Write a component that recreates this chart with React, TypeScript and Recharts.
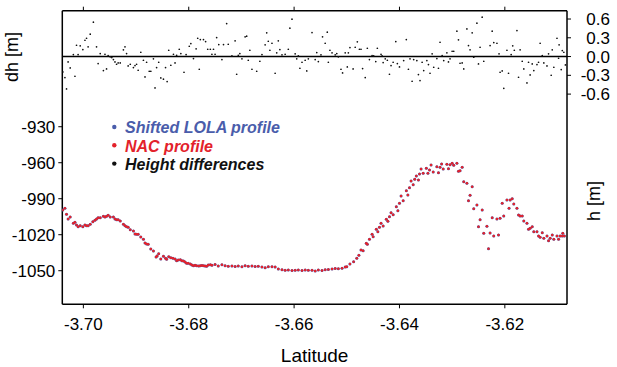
import { ScatterChart, Scatter, XAxis, YAxis, ReferenceLine, Legend } from "recharts";

const FONT = "'Liberation Sans', Arial, Helvetica, sans-serif";

const latTicks = [-3.7, -3.68, -3.66, -3.64, -3.62];
const hTicks = [-1050, -1020, -990, -960, -930];
const dhTicks = [-0.6, -0.3, 0, 0.3, 0.6];

const legendItems = [
	{ name: "Shifted LOLA profile", color: "#4a5dab" },
	{ name: "NAC profile", color: "#e3222b" },
	{ name: "Height differences", color: "#111111" },
];

// profile (latitude, height in m)
const profileLat = [
	-3.7039, -3.7035, -3.7032, -3.7029, -3.7025, -3.7019, -3.7016, -3.7013, -3.701, -3.7006,
	-3.7001, -3.6997, -3.6994, -3.6991, -3.6987, -3.6982, -3.6978, -3.6975, -3.6972, -3.6968,
	-3.6962, -3.6959, -3.6956, -3.6953, -3.6949, -3.6943, -3.694, -3.6937, -3.6934, -3.693,
	-3.6924, -3.6921, -3.6918, -3.6915, -3.6911, -3.6905, -3.6902, -3.6899, -3.6896, -3.6891,
	-3.6886, -3.6883, -3.688, -3.6877, -3.6872, -3.6867, -3.6862, -3.686, -3.6857, -3.6853,
	-3.6848, -3.6844, -3.6842, -3.6838, -3.6834, -3.683, -3.6826, -3.6823, -3.682, -3.6816,
	-3.6813, -3.681, -3.6807, -3.6804, -3.6801, -3.6797, -3.6794, -3.6791, -3.6788, -3.6785,
	-3.6781, -3.6778, -3.6775, -3.6772, -3.6769, -3.6766, -3.6763, -3.6759, -3.6756, -3.675,
	-3.6744, -3.6737, -3.6731, -3.6725, -3.6718, -3.6712, -3.6706, -3.6699, -3.6693, -3.6687,
	-3.668, -3.6674, -3.6668, -3.6661, -3.6655, -3.6649, -3.6642, -3.6636, -3.663, -3.6623,
	-3.6617, -3.6611, -3.6604, -3.6598, -3.6592, -3.6585, -3.6579, -3.6573, -3.6566, -3.656,
	-3.6554, -3.6547, -3.6541, -3.6535, -3.6528, -3.6522, -3.6516, -3.6509, -3.6503, -3.65,
	-3.6494, -3.6487, -3.6481, -3.6477, -3.6473, -3.6469, -3.6463, -3.6461, -3.6457, -3.6452,
	-3.645, -3.6444, -3.6441, -3.6438, -3.6435, -3.6431, -3.6425, -3.6422, -3.6419, -3.6416,
	-3.6412, -3.6406, -3.6403, -3.64, -3.6397, -3.6393, -3.6387, -3.6384, -3.6381, -3.6378,
	-3.6374, -3.6371, -3.6368, -3.6364, -3.6362, -3.6359, -3.6355, -3.6349, -3.6346, -3.6343,
	-3.634, -3.6336, -3.6329, -3.6326, -3.6323, -3.632, -3.6317, -3.631, -3.6307, -3.6304,
	-3.63, -3.6297, -3.6291, -3.6288, -3.6285, -3.6281, -3.6278, -3.6272, -3.6269, -3.6266,
	-3.6262, -3.6259, -3.6253, -3.625, -3.6247, -3.6243, -3.624, -3.6234, -3.6231, -3.6228,
	-3.6224, -3.6221, -3.6215, -3.6212, -3.6209, -3.6205, -3.6202, -3.6196, -3.6192, -3.619,
	-3.6186, -3.6183, -3.6177, -3.6174, -3.6171, -3.6167, -3.6164, -3.6158, -3.6155, -3.6152,
	-3.6148, -3.6145, -3.6139, -3.6136, -3.6133, -3.6129, -3.6126, -3.612, -3.6117, -3.6114,
	-3.611, -3.6107, -3.6101, -3.6098, -3.6095, -3.6091, -3.609, -3.6087,
];

const nacHeight = [
	-999.4, -998.0, -1003.0, -1006.9, -1005.3, -1010.5, -1009.7, -1011.9, -1013.3, -1012.5,
	-1013.3, -1011.9, -1012.5, -1012.5, -1011.3, -1009.2, -1008.0, -1006.9, -1005.8, -1005.8,
	-1004.7, -1005.3, -1004.7, -1003.8, -1005.3, -1005.3, -1006.9, -1007.5, -1007.5, -1008.6,
	-1011.3, -1012.5, -1013.3, -1013.8, -1015.8, -1016.9, -1019.4, -1019.7, -1019.7, -1021.9,
	-1023.8, -1026.9, -1027.8, -1028.0, -1031.9, -1033.6, -1038.6, -1037.8, -1035.8, -1040.3,
	-1038.0, -1039.7, -1040.5, -1038.3, -1039.2, -1039.7, -1040.3, -1041.7, -1041.1, -1040.8,
	-1041.7, -1041.9, -1042.8, -1043.8, -1043.8, -1044.4, -1045.3, -1045.8, -1045.5, -1045.8,
	-1046.0, -1045.8, -1045.6, -1045.8, -1046.0, -1046.3, -1045.3, -1045.0, -1045.5, -1044.8,
	-1046.0, -1045.0, -1045.8, -1046.3, -1046.1, -1046.5, -1046.0, -1046.6, -1045.8, -1046.3,
	-1046.0, -1046.4, -1046.2, -1046.9, -1047.5, -1046.8, -1046.6, -1047.0, -1048.5, -1049.3,
	-1049.6, -1049.4, -1049.8, -1049.6, -1049.5, -1049.8, -1049.5, -1049.7, -1049.6, -1050.2,
	-1049.5, -1049.8, -1049.3, -1049.0, -1048.5, -1048.2, -1048.3, -1047.9, -1047.0, -1046.7,
	-1044.4, -1042.5, -1039.7, -1037.2, -1032.8, -1033.3, -1027.2, -1028.0, -1023.8, -1019.7,
	-1021.7, -1015.5, -1017.5, -1013.8, -1010.5, -1012.8, -1007.2, -1008.8, -1005.0, -1001.7,
	-1003.3, -996.7, -1000.0, -993.8, -987.8, -991.7, -983.3, -986.9, -980.8, -975.3,
	-978.3, -973.8, -971.1, -974.4, -969.4, -965.3, -968.8, -964.7, -968.8, -966.1,
	-961.9, -967.8, -963.3, -968.3, -963.8, -961.1, -965.3, -961.3, -965.0, -961.7,
	-960.5, -962.2, -960.5, -967.2, -966.7, -963.8, -975.8, -977.2, -991.7, -987.2,
	-980.0, -998.3, -995.3, -1013.3, -1007.5, -999.4, -1018.8, -1013.0, -1031.7, -1018.6,
	-1005.8, -1021.1, -1006.9, -1020.2, -1006.3, -993.8, -1004.4, -991.1, -998.0, -991.1,
	-990.0, -994.4, -998.0, -1003.6, -1004.4, -1004.4, -1008.6, -1010.5, -1015.5, -1014.7,
	-1013.3, -1017.5, -1017.5, -1021.1, -1022.2, -1018.3, -1023.0, -1021.1, -1025.0, -1023.0,
	-1020.2, -1023.8, -1021.1, -1023.8, -1021.1, -1021.1, -1018.8, -1021.1,
];

// height differences (latitude, dh in m)
const diffLat = [
	-3.7039, -3.7035, -3.7032, -3.7029, -3.7025, -3.7019, -3.7016, -3.7013, -3.701, -3.7006,
	-3.7001, -3.6997, -3.6994, -3.6991, -3.6987, -3.6981, -3.6975, -3.6972, -3.6968, -3.6962,
	-3.6959, -3.6956, -3.6953, -3.6949, -3.6946, -3.6943, -3.694, -3.6937, -3.6934, -3.693,
	-3.6924, -3.6921, -3.6918, -3.6915, -3.6911, -3.6905, -3.6902, -3.6899, -3.6896, -3.6891,
	-3.6886, -3.6883, -3.688, -3.6875, -3.6872, -3.6867, -3.6864, -3.6861, -3.6857, -3.6853,
	-3.6848, -3.6844, -3.6841, -3.6838, -3.6834, -3.6829, -3.6826, -3.6823, -3.6818, -3.6815,
	-3.6809, -3.6805, -3.6799, -3.6796, -3.6791, -3.6786, -3.6783, -3.678, -3.6778, -3.6772,
	-3.6768, -3.6764, -3.6759, -3.6756, -3.6753, -3.675, -3.6747, -3.6743, -3.6737, -3.6734,
	-3.6728, -3.6725, -3.6718, -3.6712, -3.6709, -3.6706, -3.6703, -3.6699, -3.6693, -3.669,
	-3.6687, -3.6684, -3.668, -3.6671, -3.6665, -3.6661, -3.6655, -3.6652, -3.6649, -3.6646,
	-3.6642, -3.6636, -3.6633, -3.663, -3.6627, -3.6623, -3.6617, -3.6611, -3.6608, -3.6604,
	-3.6598, -3.6595, -3.6592, -3.6589, -3.6585, -3.6579, -3.6576, -3.6573, -3.6566, -3.656,
	-3.6557, -3.6554, -3.6549, -3.6546, -3.6541, -3.6537, -3.6535, -3.6532, -3.6528, -3.6522,
	-3.6519, -3.6516, -3.6511, -3.6508, -3.6503, -3.6499, -3.6497, -3.6494, -3.6488, -3.6484,
	-3.648, -3.6476, -3.6473, -3.647, -3.6465, -3.6461, -3.6457, -3.6452, -3.6449, -3.6445,
	-3.6442, -3.6435, -3.6433, -3.6431, -3.6427, -3.6423, -3.6419, -3.6416, -3.6412, -3.6407,
	-3.6404, -3.64, -3.6392, -3.6387, -3.6383, -3.638, -3.6376, -3.6373, -3.6367, -3.6364,
	-3.6361, -3.6357, -3.6354, -3.6348, -3.6345, -3.6342, -3.6338, -3.6335, -3.6329, -3.6326,
	-3.6323, -3.6319, -3.6316, -3.631, -3.6307, -3.6304, -3.63, -3.6297, -3.6291, -3.6288,
	-3.6285, -3.6281, -3.6278, -3.6272, -3.6269, -3.6266, -3.6262, -3.6259, -3.6253, -3.625,
	-3.6247, -3.6243, -3.624, -3.6228, -3.6224, -3.6221, -3.6215, -3.6211, -3.6209, -3.6205,
	-3.6202, -3.6196, -3.6193, -3.6188, -3.6185, -3.6182, -3.6177, -3.6174, -3.6171, -3.6167,
	-3.6164, -3.6158, -3.6155, -3.6152, -3.6148, -3.6145, -3.6139, -3.6136, -3.6133, -3.6129,
	-3.6126, -3.612, -3.6117, -3.6112, -3.611, -3.6107, -3.6101, -3.6098, -3.6097, -3.6093,
	-3.6091, -3.6088, -3.6085,
];

const heightDiff = [
	-0.245, -0.336, -0.517, -0.085, -0.181, 0.032, -0.315, 0.181, 0.032, 0.171,
	0.112, 0.261, 0.293, 0.155, 0.357, 0.549, 0.155, -0.112, 0.048, -0.224,
	0.037, -0.197, 0.016, -0.005, -0.016, -0.048, -0.085, -0.123, -0.101, -0.101,
	0.107, 0.155, 0.048, -0.149, -0.123, -0.176, -0.144, -0.123, -0.219, 0.069,
	-0.059, -0.325, -0.091, -0.235, -0.235, -0.037, -0.501, -0.176, -0.091, -0.341,
	-0.362, -0.176, -0.4, 0.101, -0.139, 0.037, -0.101, 0.021, 0.117, 0.048,
	-0.251, 0.032, 0.165, 0.208, -0.032, 0.123, 0.293, -0.203, 0.272, 0.272,
	0.24, 0.117, 0.117, 0.037, 0.117, 0.037, 0.304, 0.192, -0.048, 0.192,
	0.528, 0.197, 0.011, 0.251, -0.283, 0.021, 0.048, -0.037, 0.315, 0.325,
	-0.059, 0.101, -0.203, -0.235, -0.075, 0.032, 0.187, 0.379, 0.245, 0.101,
	0.213, -0.267, 0.059, 0.251, 0.112, 0.027, 0.037, 0.117, 0.453, 0.597,
	0.043, -0.037, 0.011, -0.187, -0.091, -0.059, -0.229, -0.037, 0.384, -0.048,
	0.064, -0.08, 0.027, 0.315, 0.213, 0.389, -0.091, 0.101, 0.059, 0.027,
	0.048, -0.005, -0.203, -0.261, 0.059, -0.165, 0.059, 0.144, -0.197, 0.149,
	0.235, 0.117, 0.117, -0.192, -0.336, 0.133, -0.048, 0.016, 0.011, -0.08,
	0.133, 0.037, 0.011, -0.096, -0.037, -0.059, -0.283, -0.144, -0.091, 0.24,
	-0.112, -0.165, -0.064, 0.272, -0.203, -0.037, -0.395, -0.048, -0.064, -0.288,
	-0.384, -0.091, -0.224, -0.064, -0.128, -0.267, 0.043, -0.171, -0.032, -0.187,
	0.229, 0.016, -0.064, 0.059, -0.085, -0.037, 0.085, 0.085, 0.405, 0.267,
	-0.107, -0.101, -0.197, 0.442, 0.176, 0.107, 0.379, -0.011, 0.533, -0.117,
	0.149, 0.629, -0.075, 0.176, 0.405, 0.224, 0.213, 0.043, -0.251, -0.229,
	-0.507, 0.101, -0.267, 0.032, 0.171, 0.101, 0.416, -0.331, 0.107, -0.075,
	-0.197, -0.421, -0.091, -0.293, -0.117, -0.224, -0.128, -0.091, 0.213, 0.016,
	-0.101, -0.149, 0.043, -0.299, 0.107, -0.171, 0.293, -0.027, 0.187, -0.208,
	0.096, 0.069, -0.133,
];

const profileData = profileLat.map((lat, i) => ({ lat, h: nacHeight[i] }));
const diffData = diffLat.map((lat, i) => ({ lat, dh: heightDiff[i] }));

const axisStroke = { stroke: "#000", strokeWidth: 1.5 };

const dot = (color: string, r: number) => (p: any) => (
	<circle cx={p.cx} cy={p.cy} r={r} fill={color} />
);

const RightTick = (p: any) => (
	<text x={p.x + 37} y={p.y} dy="0.355em" textAnchor="end" fontSize={17} fill="#000">
		{Number(p.payload.value).toFixed(1)}
	</text>
);

// axis title, placed by hand (the two panels share one frame)
const AxisTitle = ({ px, py, text }: any) => (
	<text
		transform={`translate(${px},${py}) rotate(-90)`}
		textAnchor="middle"
		dy="0.35em"
		fontSize={18}
		fill="#000">
		{text}
	</text>
);

const LegendBox = () => (
	<svg width={200} height={60}>
		{legendItems.map((it, i) => (
			<g key={it.name}>
				<circle cx={6.3} cy={11 + i * 18.3} r={2.2} fill={it.color} />
				<text
					x={17}
					y={17.3 + i * 18.3}
					fill={it.color}
					fontSize={16}
					fontWeight="bold"
					fontStyle="italic">
					{it.name}
				</text>
			</g>
		))}
	</svg>
);

export default function App() {
	return (
		<div
			style={{
				position: "absolute",
				left: 0,
				top: 0,
				width: 617,
				height: 367,
				background: "#fff",
				fontFamily: FONT,
			}}>
			<ScatterChart width={617} height={367} margin={{ top: 0, right: 0, bottom: 0, left: 0 }}>
				<XAxis
					xAxisId="bottom"
					type="number"
					dataKey="lat"
					domain={[-3.704, -3.6082]}
					ticks={latTicks}
					interval={0}
					tickFormatter={(v: number) => v.toFixed(2)}
					allowDataOverflow
					height={62.7}
					tickSize={4}
					tickMargin={10}
					axisLine={axisStroke}
					tickLine={{ stroke: "#000" }}
					tick={{ fill: "#000", fontSize: 17 }}
					label={{ value: "Latitude", position: "insideBottom", offset: 5, fill: "#000", fontSize: 19 }}
				/>
				<XAxis
					xAxisId="top"
					orientation="top"
					type="number"
					dataKey="lat"
					domain={[-3.704, -3.6082]}
					ticks={latTicks}
					interval={0}
					tickFormatter={() => ""}
					allowDataOverflow
					height={10.7}
					tickSize={4}
					axisLine={axisStroke}
					tickLine={{ stroke: "#000" }}
				/>
				<YAxis
					yAxisId="h"
					type="number"
					dataKey="h"
					domain={[-1078, -833.3]}
					ticks={hTicks}
					interval={0}
					allowDataOverflow
					width={62.3}
					tickSize={4}
					tickMargin={3}
					axisLine={axisStroke}
					tickLine={{ stroke: "#000" }}
					tick={{ fill: "#000", fontSize: 17 }}
					label={<AxisTitle px={12} py={57} text="dh [m]" />}
				/>
				<YAxis
					yAxisId="dh"
					orientation="right"
					type="number"
					dataKey="dh"
					domain={[-3.96, 0.733]}
					ticks={dhTicks}
					interval={0}
					allowDataOverflow
					width={50}
					tickSize={4}
					tickMargin={2}
					axisLine={axisStroke}
					tickLine={{ stroke: "#000" }}
					tick={<RightTick />}
					label={<AxisTitle px={594} py={201} text="h [m]" />}
				/>
				<ReferenceLine xAxisId="bottom" yAxisId="dh" y={0} stroke="#000" strokeWidth={1.5} />
				<Scatter
					name="Height differences"
					data={diffData}
					xAxisId="bottom"
					yAxisId="dh"
					shape={dot("#111", 0.85)}
					isAnimationActive={false}
				/>
				<Scatter
					name="Shifted LOLA profile"
					data={profileData}
					xAxisId="bottom"
					yAxisId="h"
					shape={dot("#4a5dab", 1.5)}
					isAnimationActive={false}
				/>
				<Scatter
					name="NAC profile"
					data={profileData}
					xAxisId="bottom"
					yAxisId="h"
					shape={dot("#e3222b", 1.25)}
					isAnimationActive={false}
				/>
				<Legend
					layout="vertical"
					align="center"
					verticalAlign="middle"
					content={<LegendBox />}
					wrapperStyle={{ left: 108, top: 116, width: 200, height: 60 }}
				/>
			</ScatterChart>
		</div>
	);
}
